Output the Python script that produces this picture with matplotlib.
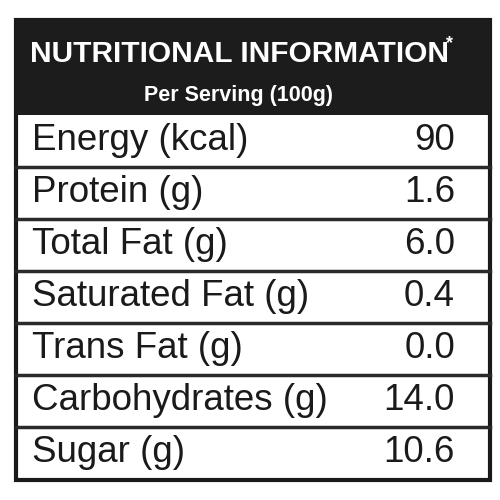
import matplotlib
matplotlib.use("Agg")
import matplotlib.pyplot as plt
from matplotlib.patches import Rectangle

title = "NUTRITIONAL INFORMATION"
subtitle = "Per Serving (100g)"
nutrients = ["Energy (kcal)", "Protein (g)", "Total Fat (g)", "Saturated Fat (g)",
             "Trans Fat (g)", "Carbohydrates (g)", "Sugar (g)"]
values = ["90", "1.6", "6.0", "0.4", "0.0", "14.0", "10.6"]

fig = plt.figure(figsize=(5, 5), dpi=100)
ax = fig.add_axes([0, 0, 1, 1])
ax.set_xlim(0, 500)
ax.set_ylim(500, 0)
ax.axis("off")
fam = ["Liberation Sans", "DejaVu Sans"]

ax.add_patch(Rectangle((16, 20), 474, 460, facecolor="white", edgecolor="#1a1a1a", lw=3))
ax.add_patch(Rectangle((16, 20), 474, 95, facecolor="#1c1c1c", edgecolor="none"))
ax.text(30, 54, title, color="white", fontsize=21.5, fontweight="bold", va="center", ha="left", family=fam)
ax.text(446, 44, "*", color="white", fontsize=13, fontweight="bold", va="center", ha="left", family=fam)
ax.text(238, 95, subtitle, color="white", fontsize=15.5, fontweight="bold", va="center", ha="center", family=fam)

top, h = 115, 52
for i, (n, v) in enumerate(zip(nutrients, values)):
    yc = top + h * (i + 0.5)
    ax.text(32, yc, n, fontsize=26.5, va="center", ha="left", color="#1a1a1a", family=fam)
    ax.text(455, yc, v, fontsize=26.5, va="center", ha="right", color="#1a1a1a", family=fam)
    if i > 0:
        ax.plot([16, 490], [top + h * i, top + h * i], color="#2a2a2a", lw=2.5)

fig.savefig("out.png", dpi=100, facecolor="white")
